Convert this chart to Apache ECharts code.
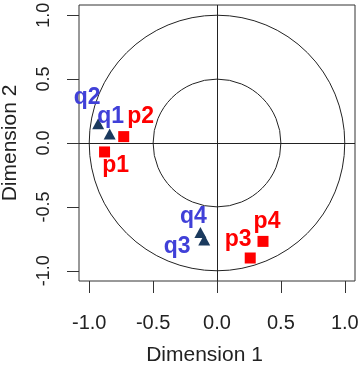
<!DOCTYPE html>
<html>
<head>
<meta charset="utf-8">
<script src="https://cdn.jsdelivr.net/npm/echarts@6/dist/echarts.min.js"></script>
<style>
  html, body { margin: 0; padding: 0; background: #fff; }
  #chart { width: 359px; height: 375px; }
</style>
</head>
<body>
<div id="chart"></div>
<script>
// data
var pNames = ['p1', 'p2', 'p3', 'p4'];
var pX = [-0.88, -0.73, 0.26, 0.36];
var pY = [-0.07, 0.05, -0.90, -0.77];

var qNames = ['q1', 'q2', 'q3', 'q4'];
var qX = [-0.84, -0.93, -0.10, -0.13];
var qY = [0.07, 0.15, -0.76, -0.70];

var circleRadii = [1, 0.5];
var tickValues = [-1, -0.5, 0, 0.5, 1];

// label placement (pixels, relative to the marker)
var pLabelOffsets = [[11, 14], [17, -20], [-12, -18], [4, -20]];
var qLabelOffsets = [[1, -17], [-11, -26], [-27, 7], [-7, -16]];

var dom = document.getElementById('chart');
var myChart = echarts.init(dom);

function buildPoints(names, xs, ys, offsets) {
	var out = [];
	for (var i = 0; i < names.length; i++) {
		out.push({
			name: names[i],
			value: [xs[i], ys[i]],
			label: { offset: offsets[i] }
		});
	}
	return out;
}

var circleData = circleRadii.map(function (r) { return [0, 0, r]; });

var fontName = 'Liberation Sans, Arial, sans-serif';

var option = {
	animation: false,
	grid: {
		left: 79, top: 5, width: 276, height: 276,
		show: true, borderColor: '#333', borderWidth: 1,
		containLabel: false, outerBoundsMode: 'none'
	},
	xAxis: {
		type: 'value', min: -1.08, max: 1.08,
		name: 'Dimension 1', nameLocation: 'middle', nameGap: 64,
		nameTextStyle: { color: '#222', fontSize: 21, fontFamily: fontName, padding: [0, 25, 0, 0] },
		axisLine: { show: false, onZero: false },
		splitLine: { show: false },
		axisTick: { show: true, inside: false, length: 12, customValues: tickValues, lineStyle: { color: '#333' } },
		axisLabel: {
			customValues: tickValues, margin: 32, fontSize: 20,
			color: '#222', fontFamily: fontName,
			formatter: function (v) { return v.toFixed(1); }
		}
	},
	yAxis: {
		type: 'value', min: -1.08, max: 1.08,
		name: 'Dimension 2', nameLocation: 'middle', nameGap: 58, nameRotate: 90,
		nameTextStyle: { color: '#222', fontSize: 21, fontFamily: fontName },
		axisLine: { show: false, onZero: false },
		splitLine: { show: false },
		axisTick: { show: true, inside: false, length: 12, customValues: tickValues, lineStyle: { color: '#333' } },
		axisLabel: {
			customValues: tickValues, margin: 26, fontSize: 18, rotate: 90,
			color: '#222', fontFamily: fontName,
			formatter: function (v) { return v.toFixed(1); }
		}
	},
	series: [
		{
			// reference circles r = 1 and r = 0.5, plus the axes through the origin
			type: 'custom',
			silent: true,
			data: circleData,
			encode: { x: 0, y: 1 },
			renderItem: function (params, api) {
				var c = api.coord([api.value(0), api.value(1)]);
				var s = api.size([api.value(2), api.value(2)]);
				return {
					type: 'circle',
					shape: { cx: c[0], cy: c[1], r: s[0] },
					style: { fill: 'none', stroke: '#222', lineWidth: 1 }
				};
			},
			markLine: {
				silent: true,
				symbol: 'none',
				label: { show: false },
				lineStyle: { color: '#222', width: 1, type: 'solid' },
				data: [{ xAxis: 0 }, { yAxis: 0 }]
			}
		},
		{
			name: 'p',
			type: 'scatter',
			symbol: 'rect',
			symbolSize: 11,
			itemStyle: { color: '#ff0000', opacity: 1 },
			label: {
				show: true, position: 'inside', formatter: '{b}',
				color: '#ff0000', fontSize: 23, fontWeight: 'bold',
				fontFamily: fontName
			},
			data: buildPoints(pNames, pX, pY, pLabelOffsets)
		},
		{
			name: 'q',
			type: 'scatter',
			symbol: 'triangle',
			symbolSize: [12, 11],
			itemStyle: { color: '#1b3a5e', opacity: 1 },
			label: {
				show: true, position: 'inside', formatter: '{b}',
				color: '#4040d8', fontSize: 23, fontWeight: 'bold',
				fontFamily: fontName
			},
			data: buildPoints(qNames, qX, qY, qLabelOffsets)
		}
	]
};

myChart.setOption(option);
</script>
</body>
</html>
